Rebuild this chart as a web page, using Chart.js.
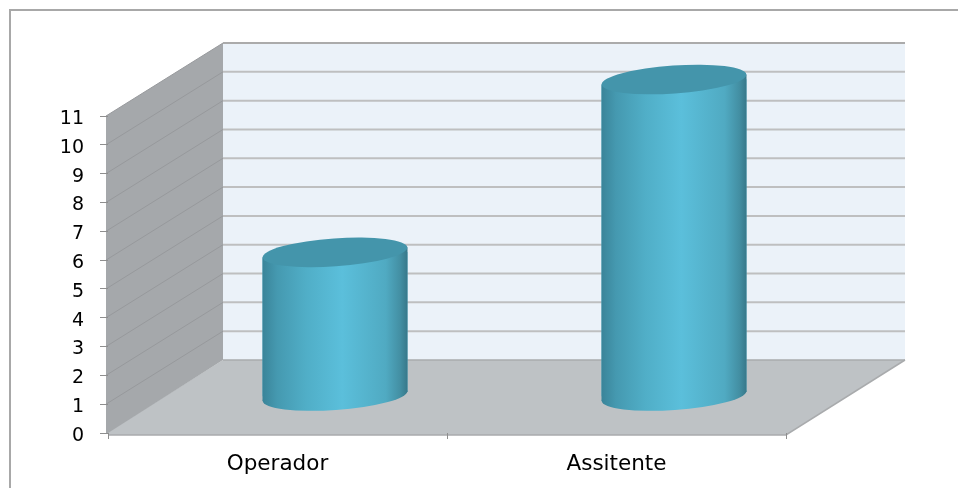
<!DOCTYPE html>
<html>
<head>
<meta charset="utf-8">
<style>
  html, body { margin: 0; padding: 0; background: #fff; }
  #wrap { width: 958px; height: 488px; }
</style>
<script src="https://cdn.jsdelivr.net/npm/chart.js@4"></script>
</head>
<body>
<div id="wrap"><canvas id="myChart" width="958" height="488"></canvas></div>
<script>
const categories = ['Operador', 'Assitente'];
const seriesValues = [5, 11];
const yTickMax = 11;

// depth of the fake 3D box, bars stand halfway in
const depthX = 115;
const depthY = -73;
const barWidth = 145;

function barGradient(ctx, center) {
  const half = barWidth / 2;
  const g = ctx.createLinearGradient(center - half, 0, center + half, 0);
  g.addColorStop(0, '#3A8499');
  g.addColorStop(0.1, '#4599B0');
  g.addColorStop(0.3, '#50AEC7');
  g.addColorStop(0.55, '#5BBFDB');
  g.addColorStop(0.85, '#50AAC2');
  g.addColorStop(0.95, '#438FA3');
  g.addColorStop(1, '#37788A');
  return g;
}

function bodyPath(ctx, bar) {
  const half = barWidth / 2;
  ctx.moveTo(bar.x - half, bar.y + 5);
  ctx.lineTo(bar.x + half, bar.y - 5);
  ctx.lineTo(bar.x + half, bar.base - 4);
  ctx.lineTo(bar.x - half, bar.base + 5);
  ctx.closePath();
}

const box3d = {
  id: 'box3d',
  beforeDraw(chart) {
    const { ctx, chartArea: a, scales: { y } } = chart;
    ctx.save();

    // outer frame
    ctx.strokeStyle = '#A8A8A8';
    ctx.lineWidth = 2;
    ctx.beginPath();
    ctx.moveTo(10, 488);
    ctx.lineTo(10, 10);
    ctx.lineTo(958, 10);
    ctx.stroke();

    const backL = a.left + depthX;
    const backR = a.right + depthX + 4;
    const backB = a.bottom + depthY;
    const backT = a.top + depthY;

    // back wall
    ctx.fillStyle = '#EBF2F9';
    ctx.fillRect(backL, backT, backR - backL, backB - backT);

    // floor
    ctx.fillStyle = '#BEC2C5';
    ctx.beginPath();
    ctx.moveTo(a.left, a.bottom - 1);
    ctx.lineTo(a.left, a.bottom + 2);
    ctx.lineTo(a.right, a.bottom + 2);
    ctx.lineTo(backR, backB);
    ctx.lineTo(backL, backB);
    ctx.closePath();
    ctx.fill();

    // left wall
    ctx.fillStyle = '#A5A8AB';
    ctx.beginPath();
    ctx.moveTo(a.left - 2, a.top);
    ctx.lineTo(backL, backT);
    ctx.lineTo(backL, backB);
    ctx.lineTo(a.left, a.bottom);
    ctx.lineTo(a.left - 2, a.bottom);
    ctx.closePath();
    ctx.fill();

    ctx.strokeStyle = '#A9ABAD';
    ctx.lineWidth = 1.5;
    ctx.beginPath();
    ctx.moveTo(a.left, a.bottom + 2);
    ctx.lineTo(a.right, a.bottom + 2);
    ctx.lineTo(backR, backB);
    ctx.stroke();

    // gridlines on both walls, one per y tick
    y.ticks.forEach((t) => {
      const py = y.getPixelForValue(t.value);
      if (t.value > 0) {
        ctx.strokeStyle = '#97999C';
        ctx.lineWidth = 1;
        ctx.beginPath();
        ctx.moveTo(a.left - 2, py);
        ctx.lineTo(backL, py + depthY);
        ctx.stroke();
        ctx.strokeStyle = t.value === yTickMax ? '#ABABAB' : '#BEBFC0';
        ctx.lineWidth = 2;
        ctx.beginPath();
        ctx.moveTo(backL, py + depthY);
        ctx.lineTo(backR, py + depthY);
        ctx.stroke();
      }
    });
    ctx.strokeStyle = '#A9ABAD';
    ctx.lineWidth = 1.5;
    ctx.beginPath();
    ctx.moveTo(backL, backB);
    ctx.lineTo(backR, backB);
    ctx.stroke();
    ctx.restore();
  },
  beforeDatasetDraw(chart, args) {
    const { ctx } = chart;
    ctx.save();
    ctx.translate(depthX / 2, depthY / 2);
    ctx.beginPath();
    args.meta.data.forEach((bar) => bodyPath(ctx, bar));
    ctx.clip();
  },
  afterDatasetDraw(chart, args) {
    const { ctx } = chart;
    ctx.restore();
    ctx.save();
    ctx.translate(depthX / 2, depthY / 2);
    const half = barWidth / 2;
    args.meta.data.forEach((bar) => {
      ctx.fillStyle = barGradient(ctx, bar.x);
      ctx.beginPath();
      ctx.ellipse(bar.x, bar.base, half, 14, -0.07, 0, Math.PI * 2);
      ctx.fill();
      ctx.beginPath();
      bodyPath(ctx, bar);
      ctx.fill();
      ctx.fillStyle = '#4495AB';
      ctx.beginPath();
      ctx.ellipse(bar.x, bar.y, half, 14, -0.07, 0, Math.PI * 2);
      ctx.fill();
    });
    ctx.restore();
  }
};

new Chart(document.getElementById('myChart'), {
  type: 'bar',
  data: {
    labels: categories,
    datasets: [{
      data: seriesValues,
      barThickness: barWidth,
      clip: false,
      borderWidth: 0,
      backgroundColor: '#50AEC7'
    }]
  },
  options: {
    responsive: false,
    animation: false,
    layout: { padding: { top: 116, right: 172, bottom: 0, left: 0 } },
    plugins: { legend: { display: false }, tooltip: { enabled: false } },
    scales: {
      x: {
        afterFit(s) { s.height = 55; },
        border: { display: false },
        grid: { drawOnChartArea: false, color: '#8E8E8E', tickLength: 6, offset: true },
        ticks: { color: '#000', padding: 13, font: { family: 'DejaVu Sans', size: 21.5 } }
      },
      y: {
        min: 0,
        max: yTickMax,
        afterFit(s) { s.width = 108; },
        border: { display: false },
        grid: { drawOnChartArea: false, color: '#8E8E8E', tickLength: 8 },
        ticks: { color: '#000', stepSize: 1, padding: 16, labelOffset: 3, font: { family: 'DejaVu Sans', size: 19 } }
      }
    }
  },
  plugins: [box3d]
});
</script>
</body>
</html>
